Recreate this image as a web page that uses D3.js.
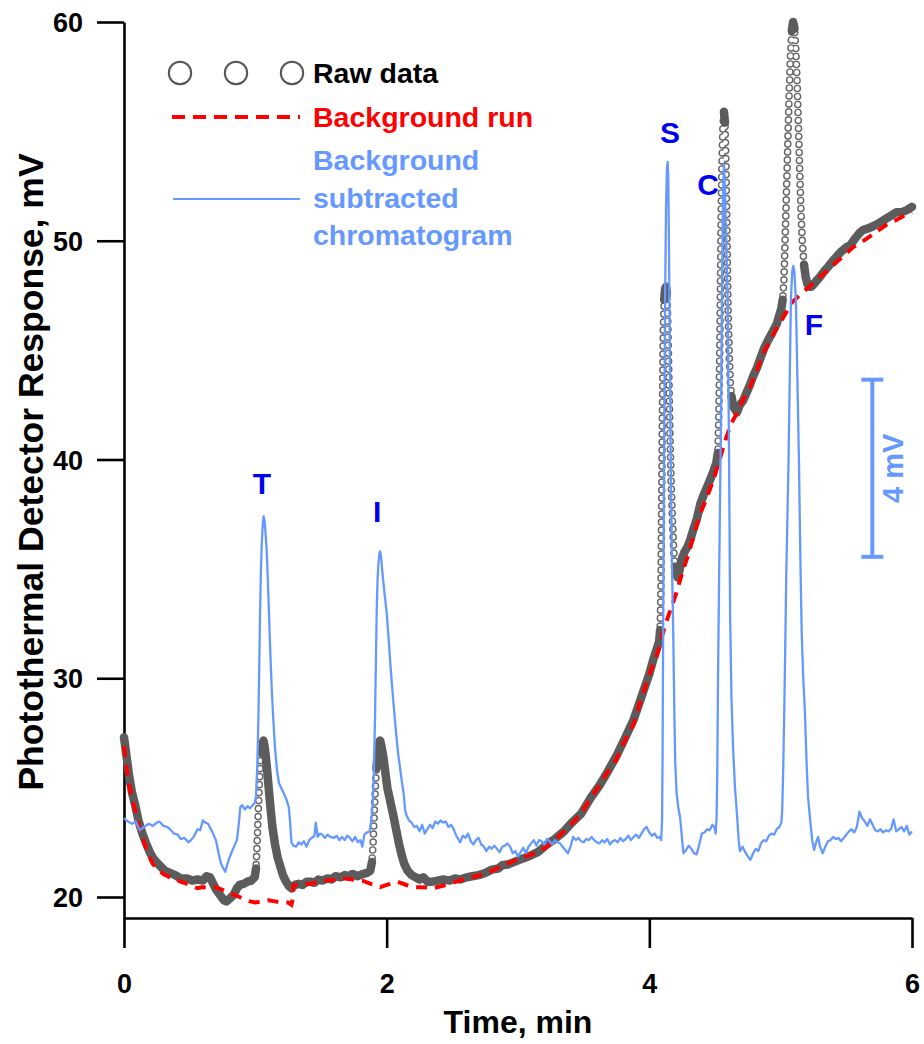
<!DOCTYPE html>
<html><head><meta charset="utf-8">
<script src="https://cdn.jsdelivr.net/npm/d3@7"></script>
<style>
body{margin:0;background:#fff}
svg text{font-family:"Liberation Sans",Arial,Helvetica,sans-serif;font-weight:bold}
</style>
</head><body>
<svg id="chart" width="924" height="1044"></svg>
<script>
// ---------------- data ----------------
const xTicksMajor = [0, 2, 4, 6];
const xTicksMinor = [1, 3, 5];
const yTicksMajor = [20, 30, 40, 50, 60];
const yTicksMinor = [25, 35, 45, 55];

// Raw data (time, min / response, mV)
const rawTime = [0,0.02,0.04,0.06,0.085,0.11,0.14,0.165,0.2,0.23,0.27,0.31,0.35,0.39,0.43,0.48,0.52,0.56,0.6,0.63,0.655,0.68,0.7,0.73,0.76,0.78,0.81,0.835,0.86,0.88,0.91,0.94,0.97,0.995,
1.005,1.012,1.02,1.028,1.036,1.044,1.053,1.062,1.07,1.08,1.09,1.1,1.115,1.13,1.15,1.17,1.19,1.21,1.23,1.255,1.275,1.3,1.33,1.36,1.39,1.42,1.45,1.48,1.51,1.55,1.58,1.61,1.65,1.68,1.71,1.74,1.78,1.815,1.85,1.875,
1.888,1.898,1.906,1.914,1.922,1.932,1.942,1.95,1.96,1.975,1.99,2.005,2.03,2.055,2.075,2.095,2.115,2.135,2.16,2.19,2.22,2.25,2.28,2.31,2.35,2.39,2.43,2.48,2.52,2.56,2.61,2.65,2.7,2.75,2.8,2.85,2.88,2.93,3.01,3.08,3.15,3.22,3.28,3.35,3.41,3.48,3.55,3.62,3.68,3.75,3.81,3.88,3.92,3.96,4.0,4.03,4.06,
4.075,4.082,4.088,4.094,4.1,4.106,4.113,4.12,4.127,4.134,4.141,4.149,4.157,4.165,4.175,4.185,4.195,4.207,4.218,4.232,4.25,4.27,4.29,4.31,4.335,4.36,4.39,4.415,4.44,4.465,4.49,4.51,
4.522,4.53,4.538,4.545,4.552,4.56,4.568,4.576,4.584,4.592,4.6,4.61,4.617,4.625,4.64,4.667,4.69,4.715,4.74,4.765,4.79,4.82,4.85,4.875,4.9,4.94,4.97,4.99,
5.005,5.015,5.025,5.035,5.045,5.055,5.065,5.075,5.085,5.095,5.105,5.115,5.125,5.135,5.145,5.155,5.165,5.178,5.19,5.205,5.22,5.235,5.25,5.27,5.3,5.33,5.36,5.4,5.43,5.46,5.5,5.53,5.56,5.6,5.63,5.66,5.7,5.73,5.76,5.8,5.84,5.88,5.92,5.96,6.0];
const rawValue = [27.3,26.4,25.5,24.8,24.2,23.5,22.9,22.5,22.0,21.7,21.45,21.2,21.1,21.0,20.85,20.85,20.75,20.8,20.75,20.95,20.9,20.6,20.35,20.1,19.85,19.8,19.95,20.1,20.4,20.55,20.6,20.7,20.75,20.9,
21.3,22.2,23.5,24.8,25.9,26.6,27.0,27.15,26.9,26.4,25.8,25.1,24.1,23.2,22.4,21.8,21.4,21.0,20.75,20.5,20.4,20.55,20.6,20.55,20.7,20.7,20.65,20.8,20.75,20.85,20.8,20.95,20.9,21.0,20.95,21.05,20.95,21.05,21.1,21.2,
21.6,22.6,23.9,25.0,25.9,26.6,27.0,27.15,26.9,26.4,25.7,25.0,24.3,23.6,23.0,22.4,21.9,21.5,21.2,21.0,20.9,20.8,20.9,20.7,20.7,20.75,20.8,20.75,20.85,20.8,20.9,20.95,21.0,21.1,21.25,21.3,21.45,21.5,21.7,21.85,22.05,22.4,22.65,23.0,23.4,23.8,24.5,25.1,25.7,26.45,27.2,28.1,28.8,29.5,30.2,30.85,31.4,
31.7,32.2,34.0,38.0,42.5,45.8,47.3,47.8,47.9,47.6,46.3,43.8,41.2,39.2,37.4,35.9,35.1,34.7,34.6,35.0,35.5,35.8,36.0,36.3,36.8,37.25,38.0,38.4,38.75,39.1,39.5,39.85,
40.3,42.3,45.8,50.3,53.3,55.2,55.9,55.4,53.4,50.0,46.7,44.5,43.5,42.9,42.4,42.15,42.5,42.7,43.05,43.4,43.8,44.2,44.7,45.1,45.4,45.85,46.2,46.6,
46.9,47.3,48.2,50.3,52.4,54.6,56.8,58.5,59.6,60.0,59.7,58.8,57.3,55.3,53.2,51.3,49.9,48.9,48.35,48.0,47.9,47.9,48.0,48.15,48.35,48.6,48.8,49.1,49.3,49.5,49.7,49.8,50.05,50.35,50.5,50.55,50.65,50.75,50.85,51.0,51.15,51.3,51.3,51.4,51.55];

// Background run
const bgTime = [0,0.03,0.06,0.085,0.12,0.165,0.2,0.22,0.26,0.3,0.35,0.4,0.43,0.48,0.52,0.56,0.6,0.65,0.7,0.72,0.76,0.8,0.84,0.88,0.92,0.96,1.0,1.05,1.1,1.15,1.2,1.25,1.275,1.285,1.29,1.31,1.35,1.42,1.48,1.55,1.62,1.68,1.74,1.815,1.88,1.95,2.0,2.08,2.15,2.21,2.28,2.35,2.42,2.48,2.55,2.61,2.68,2.75,2.82,2.88,2.95,3.01,3.08,3.15,3.22,3.28,3.35,3.41,3.48,3.55,3.62,3.68,3.75,3.81,3.88,3.93,3.98,4.02,4.06,4.1,4.13,4.16,4.2,4.23,4.26,4.3,4.34,4.39,4.44,4.49,4.53,4.58,4.62,4.67,4.72,4.77,4.82,4.87,4.92,4.96,5.0,5.05,5.09,5.15,5.21,5.28,5.35,5.43,5.49,5.55,5.62,5.68,5.75,5.81,5.88,5.96,6.0];
const bgValue = [26.9,25.4,24.5,23.95,23.1,22.3,21.75,21.5,21.25,21.05,20.9,20.8,20.7,20.6,20.5,20.4,20.45,20.4,20.45,20.4,20.3,20.2,20.1,20.0,19.9,19.8,19.75,19.8,19.85,19.8,19.75,19.75,19.65,19.9,20.55,20.55,20.6,20.6,20.7,20.75,20.8,20.85,20.8,20.75,20.6,20.45,20.55,20.7,20.55,20.45,20.45,20.4,20.5,20.6,20.75,20.85,20.95,21.05,21.25,21.45,21.6,21.75,21.9,22.05,22.3,22.6,23.0,23.35,23.8,24.5,25.1,25.7,26.3,27.1,27.9,28.9,29.8,30.5,31.1,32.0,32.6,33.1,33.8,34.4,35.0,35.7,36.6,37.55,38.3,39.1,39.9,40.9,41.6,42.15,42.8,43.35,44.1,44.9,45.4,45.9,46.3,46.8,47.2,47.55,47.85,48.25,48.6,49.05,49.35,49.7,49.95,50.2,50.5,50.75,50.95,51.2,51.3];

// Background subtracted chromatogram (plotted on the main axis, scaled as drawn)
const subTime = [0,0.03,0.06,0.09,0.12,0.15,0.19,0.22,0.25,0.27,0.3,0.33,0.35,0.38,0.41,0.43,0.46,0.49,0.51,0.53,0.56,0.58,0.6,0.62,0.64,0.67,0.7,0.72,0.74,0.77,0.8,0.83,0.86,0.875,0.885,0.9,0.92,0.94,0.96,0.98,0.995,
1.005,1.015,1.023,1.03,1.036,1.042,1.048,1.056,1.063,1.07,1.078,1.087,1.095,1.104,1.115,1.125,1.137,1.15,1.165,1.18,1.2,1.22,1.24,1.255,1.265,1.275,1.29,1.31,1.33,1.35,1.37,1.39,1.41,1.43,1.45,1.46,1.475,1.49,1.51,1.53,1.55,1.57,1.6,1.62,1.64,1.66,1.68,1.7,1.72,1.74,1.76,1.78,1.8,1.815,1.83,1.85,1.87,
1.885,1.895,1.903,1.911,1.918,1.924,1.93,1.937,1.944,1.95,1.957,1.965,1.973,1.985,2.0,2.015,2.03,2.047,2.063,2.078,2.09,2.1,2.115,2.13,2.14,2.15,2.17,2.19,2.21,2.23,2.25,2.27,2.29,2.31,2.33,2.35,2.37,2.39,2.41,2.43,2.45,2.47,2.49,2.51,2.53,2.56,2.58,2.6,2.62,2.64,2.66,2.68,2.7,2.72,2.74,2.76,2.78,2.8,2.82,2.84,2.86,2.88,2.9,2.92,2.94,2.96,2.98,
3.0,3.02,3.04,3.06,3.08,3.1,3.12,3.14,3.16,3.18,3.2,3.22,3.24,3.26,3.28,3.3,3.32,3.34,3.36,3.38,3.4,3.42,3.44,3.46,3.48,3.5,3.52,3.54,3.56,3.58,3.6,3.62,3.64,3.66,3.68,3.7,3.72,3.74,3.76,3.78,3.8,3.82,3.84,3.86,3.88,3.9,3.92,3.94,3.96,3.98,4.0,4.02,4.04,4.06,4.08,4.09,
4.097,4.101,4.105,4.112,4.12,4.127,4.134,4.139,4.144,4.15,4.155,4.163,4.173,4.182,4.19,4.197,4.207,4.22,4.235,4.25,4.26,4.28,4.3,4.32,4.34,4.36,4.38,4.4,4.42,4.44,4.46,4.48,4.495,4.505,
4.512,4.517,4.523,4.532,4.545,4.553,4.561,4.568,4.575,4.585,4.597,4.606,4.615,4.625,4.637,4.652,4.667,4.68,4.69,4.71,4.73,4.75,4.77,4.79,4.81,4.83,4.85,4.87,4.89,4.91,4.93,4.95,4.97,4.99,5.005,
5.012,5.02,5.027,5.034,5.042,5.06,5.078,5.088,5.096,5.104,5.116,5.128,5.139,5.15,5.16,5.172,5.185,5.197,5.208,5.225,5.24,5.255,5.27,5.285,5.3,5.32,5.34,5.36,5.38,5.4,5.42,5.44,5.46,5.48,5.5,5.52,5.54,5.56,5.58,5.6,5.62,5.64,5.66,5.68,5.7,5.72,5.74,5.76,5.78,5.8,5.82,5.84,5.86,5.88,5.9,5.92,5.94,5.96,5.98,6.0];
const subValue = [23.6,23.45,23.35,23.45,23.05,23.2,23.35,23.25,23.4,23.45,23.25,23.2,23.1,22.9,22.85,22.65,22.7,22.5,22.6,22.75,23.1,23.05,23.5,23.4,23.35,23.0,22.6,22.0,21.5,21.15,21.75,22.2,22.6,23.4,24.1,24.2,24.0,24.15,24.05,24.2,24.3,
24.6,26.0,28.1,30.6,33.0,34.8,36.0,37.0,37.4,37.2,36.6,35.8,34.5,33.0,31.0,29.5,28.1,26.8,25.8,25.2,24.95,24.7,24.4,24.1,23.4,22.5,22.35,22.3,22.5,22.4,22.55,22.3,22.6,22.7,22.8,23.4,22.75,22.9,22.85,22.7,22.85,22.75,22.7,22.8,22.6,22.75,22.6,22.8,22.7,22.55,22.75,22.5,22.6,22.3,22.85,22.95,23.0,
23.6,24.4,25.8,28.1,30.8,33.0,34.4,35.2,35.7,35.8,35.6,35.0,34.5,33.8,33.0,31.8,30.5,29.2,28.1,27.1,26.4,26.0,25.3,24.7,24.0,23.75,23.5,23.4,23.2,23.25,23.0,23.3,22.9,23.1,23.3,23.15,23.45,23.35,23.5,23.4,23.45,23.2,23.3,23.1,22.8,22.5,22.8,22.7,22.9,22.55,22.4,22.6,22.7,22.4,22.3,22.1,22.3,22.2,22.35,22.2,22.05,22.3,22.35,22.45,22.3,22.0,22.1,
21.85,22.05,22.25,22.0,22.3,22.45,22.6,22.35,22.6,22.55,22.4,22.65,22.55,22.4,22.6,22.5,22.45,22.3,22.15,22.0,22.3,22.75,22.6,22.7,22.55,22.5,22.65,22.6,22.75,22.6,22.5,22.45,22.6,22.5,22.65,22.4,22.55,22.6,22.5,22.7,22.55,22.65,22.8,22.6,22.75,22.85,22.7,22.9,23.1,23.2,22.95,22.8,22.9,22.7,22.75,22.6,
23.5,26.5,32.0,40.0,47.3,51.5,53.3,53.6,53.0,49.5,45.5,40.0,35.0,32.1,28.6,26.2,24.8,24.1,23.6,22.6,22.0,22.15,22.35,22.2,22.0,21.95,22.4,22.9,22.95,23.1,23.05,23.3,23.2,22.9,
23.6,25.5,30.0,35.0,41.5,47.3,52.0,53.5,52.5,50.0,47.3,41.0,33.0,29.2,26.9,25.0,23.8,22.6,22.1,22.3,22.05,21.85,21.7,22.0,22.2,22.1,22.45,22.6,22.55,22.8,22.9,22.85,23.1,23.2,23.4,
24.0,26.0,28.4,31.0,34.5,40.0,47.3,48.6,48.85,48.6,47.3,43.5,40.0,35.5,32.1,30.0,28.4,26.2,24.6,23.5,22.6,22.15,22.5,22.75,22.3,22.0,22.3,22.55,22.6,22.75,22.65,22.7,22.55,22.7,22.85,23.0,23.1,22.95,23.2,23.9,23.6,23.45,23.25,23.55,23.3,23.05,23.0,23.1,22.95,23.05,23.0,23.1,23.55,23.0,23.1,23.2,23.0,23.25,22.85,23.0];

// Peak labels (compound initials) and their anchor in data units
const peakNames = ["T", "I", "S", "C", "F"];
const peakLabelTime = [1.051, 1.927, 4.157, 4.447, 5.254];
const peakLabelValue = [38.44, 37.16, 54.48, 52.1, 45.7];

// 4 mV scale bar for the subtracted trace, in main-axis units
const scaleBarTime = 5.698;
const scaleBarRange = [35.55, 43.65];
const scaleBarLabel = "4 mV";

const legendLabels = ["Raw data", "Background run", ["Background", "subtracted", "chromatogram"]];
const xTitle = "Time, min";
const yTitle = "Photothermal Detector Response, mV";

// ---------------- drawing ----------------
const svg = d3.select("#chart");
const BLUE = "#6699ff", RED = "#ff0000", GRAY = "#5c5c5c", LBL = "#0000f0";

const x = d3.scaleLinear().domain([0, 6]).range([124, 912]);
const y = d3.scaleLinear().domain([19.04, 60]).range([918, 22]);

// axes
const gx = svg.append("g").attr("transform", "translate(0,918)");
gx.call(d3.axisBottom(x).tickValues(xTicksMinor).tickSize(16).tickSizeOuter(0).tickFormat(""));
gx.call(d3.axisBottom(x).tickValues(xTicksMajor).tickSize(30).tickSizeOuter(0).tickFormat(d3.format("d")));
gx.selectAll("path.domain").attr("stroke-width", 2.6);
gx.selectAll(".tick line").attr("stroke-width", 2.6);
gx.selectAll(".tick text").attr("y", 75).attr("dy", 0).attr("font-size", 27).attr("fill", "#000");

const gy = svg.append("g").attr("transform", "translate(124,0)");
gy.call(d3.axisLeft(y).tickValues(yTicksMinor).tickSize(14).tickSizeOuter(0).tickFormat(""));
gy.call(d3.axisLeft(y).tickValues(yTicksMajor).tickSize(27).tickSizeOuter(0).tickPadding(14).tickFormat(d3.format("d")));
gy.selectAll("path.domain").attr("stroke-width", 2.6);
gy.selectAll(".tick line").attr("stroke-width", 2.6);
gy.selectAll(".tick text").attr("font-size", 27).attr("fill", "#000").attr("dy", "0.36em");
svg.selectAll("g").attr("font-family", null);

// axis titles
svg.append("text").attr("x", 518).attr("y", 1033).attr("text-anchor", "middle")
  .attr("font-size", 32).text(xTitle);
svg.append("text").attr("transform", "translate(43,472) rotate(-90)").attr("text-anchor", "middle")
  .attr("font-size", 35.5).text(yTitle);

// raw data: dense open circles; where samples crowd together they merge into a band
const raw = rawTime.map((t, i) => ({ t, v: rawValue[i] }));
const runs = [];
let cur = null;
for (let i = 0; i < raw.length - 1; i++) {
  const dx = Math.abs(x(raw[i + 1].t) - x(raw[i].t));
  const dy = Math.abs(y(raw[i + 1].v) - y(raw[i].v));
  const steep = dy > 12 * dx;
  if (!cur || cur.steep !== steep) { cur = { steep, pts: [raw[i]] }; runs.push(cur); }
  cur.pts.push(raw[i + 1]);
}
const line = d3.line().x(d => x(d.t)).y(d => y(d.v));
const gRaw = svg.append("g");
runs.filter(r => r.steep).forEach(r => {
  gRaw.append("path").attr("d", line(r.pts)).attr("fill", "none").attr("stroke", "#666")
    .attr("stroke-width", 7.6).attr("stroke-linecap", "round")
    .attr("stroke-dasharray", "0 8").attr("stroke-dashoffset", -4);
});
runs.filter(r => r.steep).forEach(r => {
  gRaw.append("path").attr("d", line(r.pts)).attr("fill", "none").attr("stroke", "#fff")
    .attr("stroke-width", 4.8).attr("stroke-linecap", "round")
    .attr("stroke-dasharray", "0 8").attr("stroke-dashoffset", -4);
});
runs.filter(r => !r.steep).forEach(r => {
  gRaw.append("path").attr("d", line(r.pts)).attr("fill", "none").attr("stroke", GRAY)
    .attr("stroke-width", 8.5).attr("stroke-linecap", "round").attr("stroke-linejoin", "round");
});

// background run (red dashes)
const bg = bgTime.map((t, i) => ({ t, v: bgValue[i] }));
svg.append("path").attr("d", line(bg)).attr("fill", "none").attr("stroke", RED)
  .attr("stroke-width", 4).attr("stroke-dasharray", "11 8");

// background-subtracted chromatogram
const sub = subTime.map((t, i) => ({ t, v: subValue[i] }));
svg.append("path").attr("d", line(sub)).attr("fill", "none").attr("stroke", BLUE)
  .attr("stroke-width", 2.3).attr("stroke-linejoin", "round");

// peak labels
svg.append("g").selectAll("text").data(peakNames).join("text")
  .attr("x", (d, i) => x(peakLabelTime[i])).attr("y", (d, i) => y(peakLabelValue[i]))
  .attr("text-anchor", "middle").attr("font-size", 30).attr("fill", LBL).text(d => d);

// 4 mV scale bar
const sb = svg.append("g").attr("stroke", BLUE).attr("stroke-width", 4);
sb.append("line").attr("x1", x(scaleBarTime)).attr("x2", x(scaleBarTime))
  .attr("y1", y(scaleBarRange[0])).attr("y2", y(scaleBarRange[1]));
scaleBarRange.forEach(v => sb.append("line").attr("x1", x(scaleBarTime) - 11).attr("x2", x(scaleBarTime) + 11)
  .attr("y1", y(v)).attr("y2", y(v)));
svg.append("text")
  .attr("transform", `translate(${x(scaleBarTime) + 31},${(y(scaleBarRange[0]) + y(scaleBarRange[1])) / 2}) rotate(-90)`)
  .attr("text-anchor", "middle").attr("font-size", 29).attr("fill", BLUE).text(scaleBarLabel);

// legend
const lg = svg.append("g");
[180, 236, 292].forEach(cx => lg.append("circle").attr("cx", cx).attr("cy", 73).attr("r", 11.2)
  .attr("fill", "none").attr("stroke", "#555").attr("stroke-width", 2));
lg.append("text").attr("x", 313).attr("y", 83).attr("font-size", 28.5).attr("fill", "#000").text(legendLabels[0]);
lg.append("line").attr("x1", 172).attr("x2", 300).attr("y1", 117).attr("y2", 117)
  .attr("stroke", RED).attr("stroke-width", 4).attr("stroke-dasharray", "13 8");
lg.append("text").attr("x", 313).attr("y", 127).attr("font-size", 28.5).attr("fill", RED).text(legendLabels[1]);
lg.append("line").attr("x1", 173).attr("x2", 300).attr("y1", 199).attr("y2", 199)
  .attr("stroke", BLUE).attr("stroke-width", 2.2);
legendLabels[2].forEach((s, i) => lg.append("text").attr("x", 313).attr("y", 170 + i * 37.5)
  .attr("font-size", 28.5).attr("fill", BLUE).text(s));
</script>
</body></html>
